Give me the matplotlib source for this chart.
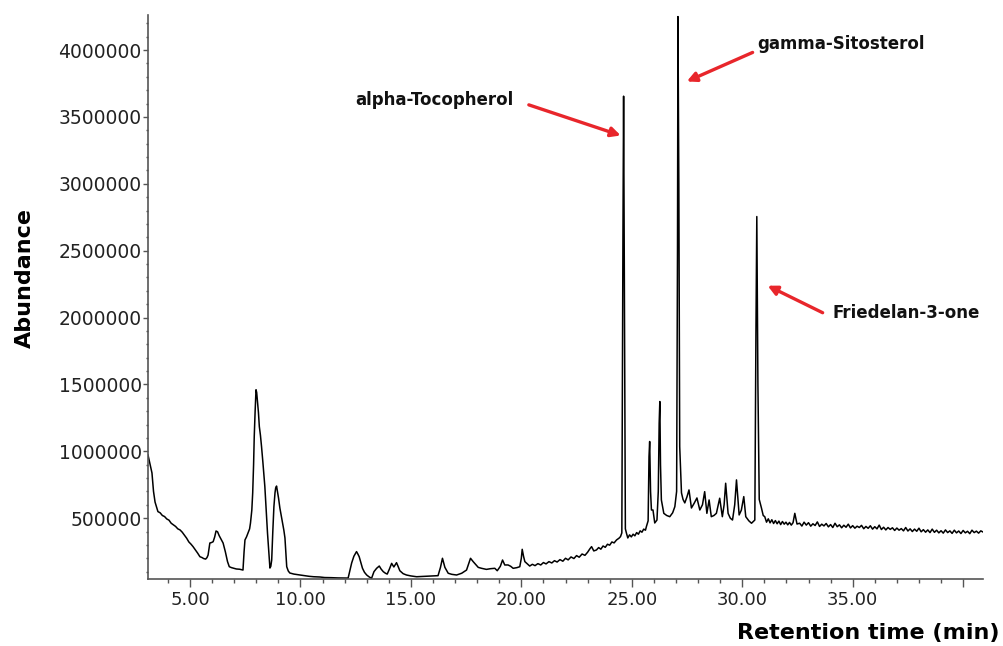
import matplotlib
matplotlib.use("Agg")
import matplotlib.pyplot as plt
from matplotlib.ticker import MultipleLocator, FixedLocator, FuncFormatter

# chromatogram trace, split by region (min, abundance)
early_rt = [
    3.10, 3.20, 3.28, 3.35, 3.42, 3.50, 3.55, 3.65, 3.75, 3.85, 3.95, 4.05, 4.15, 4.25,
    4.35, 4.45, 4.55, 4.65, 4.75, 4.85, 4.95, 5.05, 5.14, 5.25, 5.35, 5.45, 5.55, 5.62,
    5.71, 5.77, 5.82, 5.90, 5.98, 6.05, 6.12, 6.18, 6.25, 6.32, 6.40, 6.50, 6.60, 6.70,
    6.78, 6.88, 6.95, 7.10, 7.25, 7.40, 7.45, 7.49, 7.56, 7.63, 7.70, 7.74, 7.80, 7.84,
    7.88, 7.91, 7.95, 7.99, 8.02, 8.05, 8.10, 8.14, 8.19, 8.24, 8.30, 8.39, 8.45, 8.51,
    8.57, 8.62, 8.66, 8.70, 8.75, 8.80, 8.85, 8.88, 8.92, 8.95, 9.01, 9.07, 9.13, 9.19,
    9.25, 9.30, 9.35, 9.38, 9.45, 9.52, 9.70, 9.85, 9.98, 10.20, 10.40, 10.60, 10.88,
    11.10, 11.40, 11.70, 12.00,
]
early_ab = [
    973000, 900000, 838000, 700000, 620000, 575000, 549000, 540000, 520000, 512000, 494000,
    485000, 462000, 450000, 438000, 420000, 412000, 395000, 372000, 350000, 322000, 305000,
    287000, 262000, 238000, 212000, 205000, 198000, 194000, 205000, 224000, 314000, 318000,
    324000, 360000, 404000, 398000, 370000, 345000, 314000, 250000, 175000, 137000, 130000,
    127000, 120000, 118000, 112000, 250000, 337000, 360000, 389000, 420000, 464000, 560000,
    689000, 900000, 1110000, 1300000, 1460000, 1440000, 1385000, 1290000, 1185000, 1120000,
    1035000, 920000, 736000, 560000, 389000, 240000, 127000, 140000, 187000, 400000, 586000,
    690000, 726000, 740000, 711000, 650000, 576000, 520000, 464000, 410000, 352000, 220000,
    137000, 105000, 90000, 82000, 78000, 75000, 70000, 65000, 62000, 60000, 56000, 55000,
    53000, 52000,
]

mid_rt = [
    12.16, 12.24, 12.32, 12.42, 12.54, 12.60, 12.66, 12.73, 12.81, 12.90, 13.00, 13.10,
    13.22, 13.33, 13.45, 13.57, 13.65, 13.75, 13.85, 13.93, 14.03, 14.13, 14.23, 14.35,
    14.42, 14.50, 14.65, 14.80, 15.00, 15.26, 15.50, 15.80, 16.05, 16.23, 16.34, 16.43,
    16.54, 16.69, 16.85, 17.07, 17.30, 17.52, 17.62, 17.70, 17.82, 17.95, 18.05, 18.20,
    18.42, 18.60, 18.80, 18.91, 19.05, 19.15, 19.25, 19.40, 19.52, 19.63, 19.80, 19.93,
    20.00, 20.04, 20.10, 20.16, 20.38, 20.50, 20.62, 20.75, 20.88, 21.00, 21.12, 21.25,
    21.38, 21.50, 21.62, 21.75, 21.88, 22.00, 22.12, 22.25, 22.38, 22.50, 22.62, 22.75,
    22.88, 23.00, 23.10, 23.18, 23.28, 23.40, 23.50, 23.60, 23.70, 23.80, 23.90, 24.00,
    24.10, 24.20, 24.31, 24.42, 24.49,
]
mid_ab = [
    52000, 110000, 165000, 215000, 250000, 232000, 212000, 170000, 125000, 95000, 75000,
    62000, 50000, 100000, 125000, 142000, 120000, 100000, 88000, 82000, 120000, 162000,
    135000, 167000, 140000, 107000, 85000, 75000, 68000, 62000, 64000, 66000, 68000, 70000,
    132000, 200000, 132000, 88000, 80000, 75000, 88000, 112000, 160000, 200000, 175000,
    150000, 132000, 125000, 117000, 122000, 125000, 107000, 140000, 187000, 150000, 150000,
    140000, 125000, 130000, 137000, 200000, 267000, 215000, 175000, 142000, 155000, 145000,
    160000, 150000, 168000, 158000, 175000, 165000, 182000, 172000, 190000, 178000, 200000,
    188000, 210000, 198000, 220000, 208000, 232000, 222000, 245000, 270000, 287000, 255000,
    262000, 280000, 268000, 292000, 282000, 305000, 298000, 322000, 315000, 337000, 350000,
    362000,
]

peaks_rt = [
    24.55, 24.60, 24.63, 24.67, 24.71, 24.76, 24.82, 24.90, 24.98, 25.06, 25.14, 25.22,
    25.30, 25.38, 25.46, 25.54, 25.62, 25.66, 25.74, 25.78, 25.81, 25.85, 25.89, 25.96,
    26.04, 26.14, 26.20, 26.24, 26.27, 26.30, 26.34, 26.45, 26.58, 26.72, 26.85, 26.95,
    27.03, 27.07, 27.09, 27.13, 27.17, 27.25, 27.32, 27.40, 27.50, 27.59, 27.70, 27.82,
    27.95, 28.08, 28.20, 28.30, 28.40, 28.50, 28.60, 28.72, 28.83, 28.98, 29.10, 29.18,
    29.25, 29.36, 29.46, 29.56, 29.66, 29.74, 29.86, 29.96, 30.07, 30.16, 30.30, 30.42,
    30.57, 30.62, 30.66, 30.71, 30.77, 30.87, 30.95, 31.02, 31.10, 31.18, 31.26, 31.34,
    31.42, 31.50, 31.58, 31.66, 31.74, 31.82, 31.90, 31.98, 32.06, 32.14, 32.22, 32.30,
    32.38, 32.48,
]
peaks_ab = [
    390000, 2600000, 3655000, 1950000, 420000, 387000, 352000, 375000, 360000, 380000,
    368000, 392000, 380000, 405000, 395000, 418000, 410000, 436000, 480000, 960000,
    1073000, 700000, 561000, 561000, 464000, 486000, 700000, 1210000, 1372000, 900000,
    636000, 536000, 520000, 511000, 540000, 586000, 700000, 2500000, 4250000, 3000000,
    1035000, 689000, 640000, 614000, 660000, 711000, 576000, 610000, 651000, 561000,
    600000, 698000, 536000, 636000, 511000, 520000, 536000, 649000, 511000, 600000, 761000,
    536000, 500000, 486000, 600000, 786000, 524000, 560000, 661000, 511000, 480000, 462000,
    486000, 1870000, 2755000, 1500000, 640000, 576000, 520000, 511000, 470000, 495000,
    465000, 488000, 460000, 482000, 458000, 478000, 452000, 475000, 455000, 470000, 450000,
    468000, 448000, 466000, 536000, 456000,
]

late_rt = [
    32.6, 32.7, 32.8, 32.9, 33.0, 33.1, 33.2, 33.3, 33.4, 33.5, 33.6, 33.7, 33.8, 33.9,
    34.0, 34.1, 34.2, 34.3, 34.4, 34.5, 34.6, 34.7, 34.8, 34.9, 35.0, 35.1, 35.2, 35.3,
    35.4, 35.5, 35.6, 35.7, 35.8, 35.9, 36.0, 36.1, 36.2, 36.3, 36.4, 36.5, 36.6, 36.7,
    36.8, 36.9, 37.0, 37.1, 37.2, 37.3, 37.4, 37.5, 37.6, 37.7, 37.8, 37.9, 38.0, 38.1,
    38.2, 38.3, 38.4, 38.5, 38.6, 38.7, 38.8, 38.9, 39.0, 39.1, 39.2, 39.3, 39.4, 39.5,
    39.6, 39.7, 39.8, 39.9, 40.0, 40.1, 40.2, 40.3, 40.4, 40.5, 40.6, 40.7, 40.8, 40.88,
]
late_ab = [
    462000, 441000, 470000, 448000, 466000, 440000, 458000, 445000, 472000, 438000, 455000,
    442000, 460000, 435000, 452000, 430000, 462000, 436000, 450000, 428000, 447000, 432000,
    455000, 427000, 444000, 425000, 440000, 430000, 446000, 421000, 438000, 424000, 443000,
    418000, 436000, 420000, 448000, 415000, 432000, 412000, 430000, 416000, 428000, 408000,
    426000, 410000, 422000, 405000, 430000, 404000, 420000, 400000, 418000, 402000, 425000,
    398000, 414000, 395000, 412000, 392000, 418000, 394000, 410000, 390000, 406000, 388000,
    412000, 392000, 405000, 386000, 410000, 390000, 404000, 385000, 408000, 390000, 402000,
    384000, 410000, 392000, 403000, 388000, 405000, 398000,
]

# labelled compounds
compounds = ["alpha-Tocopherol", "gamma-Sitosterol", "Friedelan-3-one"]
label_xy = [(16.08, 3630000), (30.70, 4042000), (34.09, 2036000)]
label_ha = ["center", "left", "left"]
arrow_tail = [(20.34, 3590000), (30.47, 3982000), (33.64, 2036000)]
arrow_tip = [(24.50, 3361000), (27.49, 3765000), (31.15, 2238000)]

x_ticks = [5, 10, 15, 20, 25, 30, 35, 40]
x_ticklabels = ["5.00", "10.00", "15.00", "20.00", "25.00", "30.00", "35.00", ""]

rt = early_rt + mid_rt + peaks_rt + late_rt
abundance = early_ab + mid_ab + peaks_ab + late_ab

fig = plt.figure(figsize=(10.04, 6.46), dpi=100)
ax = fig.add_axes([0.1474, 0.1037, 0.8317, 0.8731])

ax.plot(rt, abundance, color="black", lw=1.1)

ax.set_xlim(3.1, 40.9)
ax.set_ylim(45000, 4262000)

ax.xaxis.set_major_locator(FixedLocator(x_ticks))
ax.set_xticklabels(x_ticklabels)
ax.xaxis.set_minor_locator(MultipleLocator(1))
ax.yaxis.set_major_locator(MultipleLocator(500000))
ax.yaxis.set_minor_locator(MultipleLocator(100000))
ax.yaxis.set_major_formatter(FuncFormatter(lambda v, p: "%d" % v))

for s in ["top", "right"]:
    ax.spines[s].set_visible(False)
for s in ["left", "bottom"]:
    ax.spines[s].set_color("#555555")
    ax.spines[s].set_linewidth(1.2)

ax.tick_params(axis="x", which="major", length=6, width=1, color="#555555",
               pad=2.5, labelsize=13, labelcolor="#222222")
ax.tick_params(axis="x", which="minor", length=3, width=1, color="#555555")
ax.tick_params(axis="y", which="major", length=3.5, width=1, color="#555555",
               pad=1, labelsize=13.5, labelcolor="#222222")
ax.tick_params(axis="y", which="minor", length=1.8, width=1, color="#555555")

fig.text(0.025, 0.570, "Abundance", rotation=90, ha="center", va="center",
         fontsize=16, fontweight="bold", family="DejaVu Sans")
fig.text(0.996, 0.004, "Retention time (min)", ha="right", va="bottom",
         fontsize=16, fontweight="bold", family="DejaVu Sans")

red = "#e8262b"
for name, xy, ha, tail, tip in zip(compounds, label_xy, label_ha, arrow_tail, arrow_tip):
    ax.text(xy[0], xy[1], name, ha=ha, va="center", fontsize=12,
            fontweight="bold", color="#111111", family="DejaVu Sans")
    ax.annotate("", xy=tip, xytext=tail,
                arrowprops=dict(arrowstyle="-|>", color=red, lw=2.4,
                                mutation_scale=14, shrinkA=0, shrinkB=0))

fig.savefig("out.png", dpi=100)
